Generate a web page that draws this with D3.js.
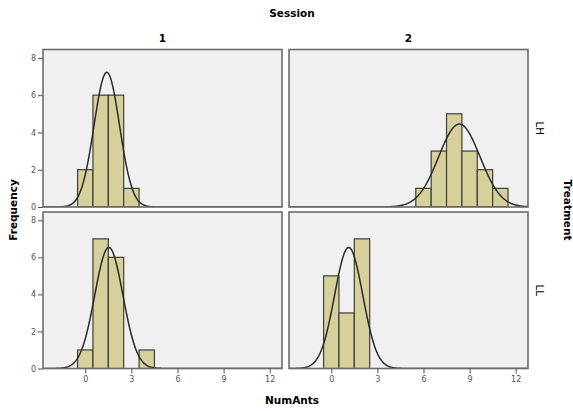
<!doctype html>
<html lang="en">
<head>
<meta charset="utf-8">
<title>NumAnts histograms</title>
<script src="https://cdn.jsdelivr.net/npm/d3@7/dist/d3.min.js"></script>
<style>
  body { margin: 0; background: #fff; }
  text { font-family: "DejaVu Sans", Arial, sans-serif; }
</style>
</head>
<body>
<div id="chart"></div>
<script>
// histogram counts per NumAnts value, one panel per Treatment x Session
var sessions = ["1", "2"];
var treatments = ["LH", "LL"];
var bins = [0, 1, 2, 3, 4, 5, 6, 7, 8, 9, 10, 11, 12];
var countsLH1 = [2, 6, 6, 1, 0, 0, 0, 0, 0, 0, 0, 0, 0];
var countsLH2 = [0, 0, 0, 0, 0, 0, 1, 3, 5, 3, 2, 1, 0];
var countsLL1 = [1, 7, 6, 0, 1, 0, 0, 0, 0, 0, 0, 0, 0];
var countsLL2 = [5, 3, 7, 0, 0, 0, 0, 0, 0, 0, 0, 0, 0];
var xTicks = [0, 3, 6, 9, 12];
var yTicks = [0, 2, 4, 6, 8];

var panels = [
  { row: 0, col: 0, counts: countsLH1 },
  { row: 0, col: 1, counts: countsLH2 },
  { row: 1, col: 0, counts: countsLL1 },
  { row: 1, col: 1, counts: countsLL2 }
];

var width = 573, height = 411;
var colX = [[43, 282], [289, 528]];
var rowY = [[49.5, 207], [212, 368.5]];

var svg = d3.select("#chart").append("svg")
  .attr("width", width).attr("height", height);

// normal curve like SPSS: N * binwidth * pdf(mean, sd)
function normalFit(counts) {
  var n = d3.sum(counts);
  var mean = d3.sum(counts, function(c, i) { return c * bins[i]; }) / n;
  var ss = d3.sum(counts, function(c, i) { return c * (bins[i] - mean) * (bins[i] - mean); });
  var sd = Math.sqrt(ss / (n - 1));
  return function(x) {
    return n / (sd * Math.sqrt(2 * Math.PI)) * Math.exp(-0.5 * Math.pow((x - mean) / sd, 2));
  };
}

panels.forEach(function(p, k) {
  var x = d3.scaleLinear().domain([-2.75, 12.8]).range(colX[p.col]);
  var y = d3.scaleLinear().domain([0, 8.45]).range([rowY[p.row][1], rowY[p.row][0]]);
  var x0 = colX[p.col][0], x1 = colX[p.col][1];
  var y0 = rowY[p.row][0], y1 = rowY[p.row][1];

  svg.append("clipPath").attr("id", "clip" + k)
    .append("rect").attr("x", x0).attr("y", y0).attr("width", x1 - x0).attr("height", y1 - y0);

  svg.append("rect")
    .attr("x", x0).attr("y", y0).attr("width", x1 - x0).attr("height", y1 - y0)
    .attr("fill", "#f0f0f0");

  var g = svg.append("g").attr("clip-path", "url(#clip" + k + ")");

  var data = bins.map(function(b, i) { return { bin: b, count: p.counts[i] }; })
    .filter(function(d) { return d.count > 0; });

  g.selectAll(".bar").data(data).enter().append("rect")
    .attr("x", function(d) { return x(d.bin - 0.5); })
    .attr("y", function(d) { return y(d.count); })
    .attr("width", function(d) { return x(d.bin + 0.5) - x(d.bin - 0.5); })
    .attr("height", function(d) { return y(0) - y(d.count); })
    .attr("fill", "#d6d09c")
    .attr("stroke", "#3f3f33")
    .attr("stroke-width", 1.2);

  var f = normalFit(p.counts);
  var pts = d3.range(-2.75, 12.81, 0.05);
  g.append("path")
    .datum(pts)
    .attr("d", d3.line().x(function(v) { return x(v); }).y(function(v) { return y(f(v)); }))
    .attr("fill", "none")
    .attr("stroke", "#2a2a2a")
    .attr("stroke-width", 1.5);

  svg.append("rect")
    .attr("x", x0).attr("y", y0).attr("width", x1 - x0).attr("height", y1 - y0)
    .attr("fill", "none").attr("stroke", "#6b6b6b").attr("stroke-width", 1.6);

  if (p.col === 0) {
    var ya = svg.append("g")
      .attr("transform", "translate(" + x0 + ",0)")
      .call(d3.axisLeft(y).tickValues(yTicks).tickSize(5).tickPadding(2));
    ya.select(".domain").remove();
    ya.selectAll("line").attr("stroke", "#555");
    ya.selectAll("text").attr("fill", "#555").style("font-size", "8px");
  }
  if (p.row === 1) {
    var xa = svg.append("g")
      .attr("transform", "translate(0," + y1 + ")")
      .call(d3.axisBottom(x).tickValues(xTicks).tickSize(5).tickPadding(3));
    xa.select(".domain").remove();
    xa.selectAll("line").attr("stroke", "#555");
    xa.selectAll("text").attr("fill", "#555").style("font-size", "8px");
  }
});

// facet labels
sessions.forEach(function(s, i) {
  svg.append("text")
    .attr("x", (colX[i][0] + colX[i][1]) / 2).attr("y", 42)
    .attr("text-anchor", "middle")
    .style("font-size", "10.5px").style("font-weight", "bold")
    .text(s);
});
treatments.forEach(function(t, i) {
  var cy = (rowY[i][0] + rowY[i][1]) / 2;
  svg.append("text")
    .attr("transform", "translate(536," + cy + ") rotate(90)")
    .attr("text-anchor", "middle")
    .style("font-size", "10.5px")
    .text(t);
});

svg.append("text")
  .attr("x", 292).attr("y", 17)
  .attr("text-anchor", "middle")
  .style("font-size", "10.5px").style("font-weight", "bold")
  .text("Session");
svg.append("text")
  .attr("transform", "translate(564,210) rotate(90)")
  .attr("text-anchor", "middle")
  .style("font-size", "10.5px").style("font-weight", "bold")
  .text("Treatment");
svg.append("text")
  .attr("transform", "translate(17,210) rotate(-90)")
  .attr("text-anchor", "middle")
  .style("font-size", "10.5px").style("font-weight", "bold")
  .text("Frequency");
svg.append("text")
  .attr("x", 292).attr("y", 404)
  .attr("text-anchor", "middle")
  .style("font-size", "10.5px").style("font-weight", "bold")
  .text("NumAnts");
</script>
</body>
</html>
